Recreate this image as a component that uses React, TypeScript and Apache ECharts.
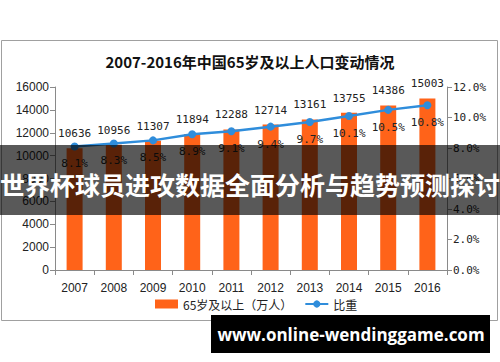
import React, { useEffect, useRef } from "react";
import * as echarts from "echarts";

const years = ["2007", "2008", "2009", "2010", "2011", "2012", "2013", "2014", "2015", "2016"];
const population = [10636, 10956, 11307, 11894, 12288, 12714, 13161, 13755, 14386, 15003];
const ratio = [8.1, 8.3, 8.5, 8.9, 9.1, 9.4, 9.7, 10.1, 10.5, 10.8];

const titleText = "2007-2016年中国65岁及以上人口变动情况";
const barName = "65岁及以上（万人）";
const lineName = "比重";
const bannerText = "世界杯球员进攻数据全面分析与趋势预测探讨";
const siteText = "www.online-wendinggame.com";

export default function App() {
  const ref = useRef<HTMLDivElement>(null);
  useEffect(() => {
    if (!ref.current) return;
    const chart = echarts.init(ref.current, undefined, { renderer: "svg" });
    const axisColor = "#8a8a8a";
    const labelFont = { fontFamily: "Liberation Sans", fontSize: 12, color: "#222" };
    chart.setOption({
      animation: false,
      backgroundColor: "#ffffff",
      title: {
        text: titleText,
        left: "center",
        top: 49,
        textStyle: { fontFamily: "Noto Sans CJK SC", fontSize: 15, fontWeight: "bold", color: "#111" },
      },
      legend: {
        left: 150,
        top: 293,
        itemGap: 12,
        itemWidth: 23,
        itemHeight: 9,
        textStyle: { fontFamily: "Noto Sans CJK SC", fontSize: 12, color: "#222" },
        data: [
          { name: barName, icon: "rect" },
          { name: lineName },
        ],
      },
      grid: { left: 55, right: 53, top: 87, bottom: 92, containLabel: false },
      xAxis: {
        type: "category",
        data: years,
        axisLine: { lineStyle: { color: axisColor } },
        axisTick: { show: true, length: 5, lineStyle: { color: axisColor }, alignWithLabel: false },
        axisLabel: { ...labelFont, margin: 12 },
      },
      yAxis: [
        {
          type: "value",
          min: 0,
          max: 16000,
          interval: 2000,
          axisLine: { show: true, lineStyle: { color: axisColor } },
          axisTick: { show: true, length: 5, lineStyle: { color: axisColor } },
          splitLine: { show: false },
          axisLabel: { ...labelFont, margin: 6, formatter: (v: number) => String(v) },
        },
        {
          type: "value",
          min: 0,
          max: 12,
          interval: 2,
          position: "right",
          axisLine: { show: true, lineStyle: { color: axisColor } },
          axisTick: { show: true, length: 5, lineStyle: { color: axisColor } },
          splitLine: { show: false },
          axisLabel: {
            fontFamily: "DejaVu Sans Mono",
            fontSize: 11,
            color: "#222",
            margin: 6,
            formatter: (v: number) => v.toFixed(1) + "%",
          },
        },
      ],
      series: [
        {
          name: barName,
          type: "bar",
          data: population,
          barWidth: 16,
          itemStyle: { color: "#ff6319" },
          label: {
            show: true,
            position: "top",
            distance: 9,
            fontFamily: "DejaVu Sans Mono",
            fontSize: 11,
            color: "#222",
          },
          z: 2,
        },
        {
          name: lineName,
          type: "line",
          yAxisIndex: 1,
          data: ratio,
          symbol: "circle",
          symbolSize: 8,
          lineStyle: { color: "#2f8ddb", width: 2.5 },
          itemStyle: { color: "#2f8ddb" },
          label: {
            show: true,
            position: "bottom",
            distance: 8,
            fontFamily: "DejaVu Sans Mono",
            fontSize: 11,
            color: "#222",
            formatter: (p: any) => p.value.toFixed(1) + "%",
          },
          z: 3,
        },
      ],
      graphic: [
        {
          type: "rect",
          z: -1,
          shape: { x: 1.5, y: 40.5, width: 496, height: 280 },
          style: { fill: "none", stroke: "#a0a0a0", lineWidth: 1 },
        },
        {
          type: "rect",
          z: 100,
          shape: { x: 0, y: 145, width: 500, height: 70 },
          style: { fill: "rgba(0,0,0,0.65)" },
        },
        {
          type: "text",
          z: 101,
          x: 250,
          y: 184,
          style: {
            text: bannerText,
            fill: "#ffffff",
            fontFamily: "Noto Sans CJK SC",
            fontSize: 25,
            fontWeight: "bold",
            align: "center",
            verticalAlign: "middle",
          },
        },
        {
          type: "rect",
          z: 100,
          shape: { x: 211, y: 315, width: 279, height: 38 },
          style: { fill: "#000000" },
        },
        {
          type: "text",
          z: 101,
          x: 351,
          y: 334,
          style: {
            text: siteText,
            fill: "#ffffff",
            fontFamily: "Open Sans",
            fontSize: 17,
            fontWeight: "bold",
            align: "center",
            verticalAlign: "middle",
          },
        },
      ],
    });
    return () => chart.dispose();
  }, []);
  return (
    <div
      ref={ref}
      style={{ position: "fixed", left: 0, top: 0, width: 500, height: 362 }}
    />
  );
}
